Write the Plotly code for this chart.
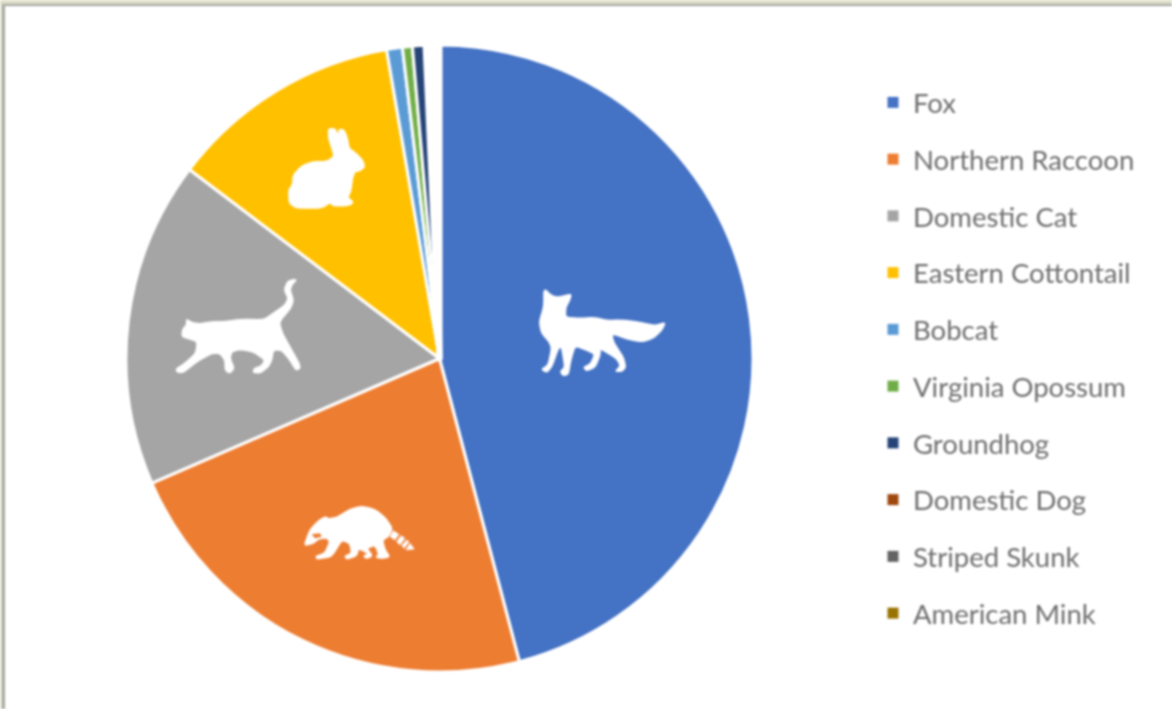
import plotly.graph_objects as go

W, H = 1172, 709

species = ["Fox", "Northern Raccoon", "Domestic Cat", "Eastern Cottontail", "Bobcat",
           "Virginia Opossum", "Groundhog", "Domestic Dog", "Striped Skunk", "American Mink"]
shares = [45.9, 22.6, 16.8, 12.0, 0.81, 0.51, 0.67, 0.24, 0.24, 0.23]
colors = ["#4472C4", "#ED7D31", "#A5A5A5", "#FFC000", "#5B9BD5",
          "#70AD47", "#264478", "#9E480E", "#636363", "#997300"]
edge_widths = [3, 3, 3, 3, 3, 3, 3, 6, 6, 6]

# Silhouettes (decorative pictograms), traced in 3x crop coordinates
fox = [(72,26),(95,48),(118,52),(154,42),(148,62),(137,82),(136,112),(175,115),(225,113),(262,122),(300,120),(350,125),(405,137),(436,128),(425,150),(400,175),(365,185),(325,178),(275,160),(280,185),(295,210),(310,232),(317,262),(305,274),(286,274),(302,258),(290,235),(240,205),(240,225),(225,262),(200,272),(191,262),(212,252),(225,222),(200,210),(165,197),(152,240),(145,282),(130,287),(121,275),(135,262),(125,200),(115,205),(95,260),(80,277),(65,268),(85,255),(95,205),(88,185),(65,160),(58,125),(72,80)]
raccoon = [(30,146),(45,105),(70,78),(92,65),(100,72),(125,68),(165,43),(200,34),(240,43),(272,70),(292,100),(280,125),(262,135),(270,165),(284,185),(262,190),(243,186),(252,178),(240,150),(215,160),(232,182),(215,190),(206,184),(222,176),(190,160),(185,182),(155,192),(150,184),(170,175),(165,145),(140,135),(110,185),(66,192),(63,184),(90,175),(105,140),(95,128),(70,132),(55,145),(32,150)]
raccoon_tail = [
    [(295,107),(312,118),(300,135),(285,125)],
    [(318,122),(330,130),(315,150),(305,140)],
    [(335,135),(342,140),(328,160),(320,152)],
    [(345,145),(358,162),(333,165)],
]
raccoon_mouth = [(50,118),(75,115),(80,125),(60,130)]
cat = [(18,297),(45,280),(78,250),(82,215),(60,207),(36,200),(38,178),(50,165),(50,148),(65,158),(90,162),(125,155),(165,155),(215,148),(280,150),(310,130),(345,105),(355,85),(343,60),(353,33),(380,28),(365,45),(360,60),(370,90),(362,115),(327,155),(337,190),(362,235),(387,280),(390,295),(378,300),(360,270),(335,240),(310,240),(305,270),(295,290),(270,309),(250,307),(253,295),(275,288),(285,270),(250,245),(210,238),(185,245),(180,265),(192,295),(180,309),(166,302),(165,270),(150,250),(125,250),(80,275),(40,307),(23,307)]
rabbit = [(146,26),(165,26),(175,50),(178,28),(192,30),(202,55),(207,85),(225,98),(247,120),(254,140),(240,152),(224,155),(217,175),(212,215),(202,232),(220,247),(205,257),(160,257),(150,247),(125,264),(50,264),(28,250),(26,210),(38,195),(40,165),(65,138),(100,125),(140,125),(163,110),(156,85),(146,55)]


def icon(points, ox, oy, fill="white", line=1.5, round_frac=0.3):
    """Turn a traced outline into a paper-referenced filled shape with softened corners."""
    pts = [((ox + x / 3) / W, 1 - (oy + y / 3) / H) for x, y in points]
    n = len(pts)
    if round_frac:
        cmds = []
        for i in range(n):
            p, c, q = pts[i - 1], pts[i], pts[(i + 1) % n]
            a = (c[0] + (p[0] - c[0]) * round_frac, c[1] + (p[1] - c[1]) * round_frac)
            b = (c[0] + (q[0] - c[0]) * round_frac, c[1] + (q[1] - c[1]) * round_frac)
            cmds.append(f"{'M' if i == 0 else 'L'} {a[0]:.5f} {a[1]:.5f} Q {c[0]:.5f} {c[1]:.5f} {b[0]:.5f} {b[1]:.5f}")
        path = " ".join(cmds) + " Z"
    else:
        path = "M " + " L ".join(f"{x:.5f} {y:.5f}" for x, y in pts) + " Z"
    return dict(type="path", xref="paper", yref="paper", path=path, layer="above",
                fillcolor=fill, line=dict(color=fill, width=line))


def rect(x0, y0, x1, y1, color):
    return dict(type="rect", xref="paper", yref="paper", layer="above",
                x0=x0 / W, x1=x1 / W, y0=1 - y0 / H, y1=1 - y1 / H,
                fillcolor=color, line=dict(width=0))


shapes = [
    rect(0, 0, W, 4, "#DFE0CA"),
    rect(0, 4, W, 6, "#A3A3A0"),
    rect(0, 4, 2, H, "#E4E5D6"),
    rect(2, 4, 5, H, "#A9AAA2"),
    icon(fox, 520, 280),
    icon(raccoon, 295, 495),
    icon(cat, 170, 270),
    icon(rabbit, 280, 120),
]
shapes += [icon(p, 295, 495, line=0.5, round_frac=0) for p in raccoon_tail]
shapes.append(icon(raccoon_mouth, 295, 495, fill="#ED7D31", line=0, round_frac=0))

fig = go.Figure()
fig.add_trace(go.Pie(
    labels=species, values=shares, sort=False, direction="clockwise", rotation=0,
    textinfo="none", showlegend=False, hoverinfo="label+percent",
    domain=dict(x=[126 / W, 753 / W], y=[1 - 672 / H, 1 - 45 / H]),
    marker=dict(colors=colors, line=dict(color="white", width=edge_widths)),
))
for name, color in zip(species, colors):
    fig.add_trace(go.Scatter(
        x=[None], y=[None], mode="markers", name=name, legendgroup=name,
        marker=dict(symbol="square", size=11, color=color),
    ))

fig.update_layout(
    width=W, height=H, autosize=False,
    margin=dict(l=0, r=0, t=0, b=0),
    paper_bgcolor="white", plot_bgcolor="white",
    xaxis=dict(visible=False), yaxis=dict(visible=False),
    shapes=shapes,
    legend=dict(
        x=873 / W, y=1 - 78 / H, xanchor="left", yanchor="top",
        font=dict(family="Lato, Carlito, sans-serif", size=27.5, color="#6E6E6E"),
        tracegroupgap=18, bgcolor="rgba(0,0,0,0)", borderwidth=0,
    ),
)
fig.write_html(
    "out.html",
    config={"displayModeBar": False},
    post_script="document.body.style.margin='0';document.getElementById('{plot_id}').style.filter='blur(0.9px)';",
)
